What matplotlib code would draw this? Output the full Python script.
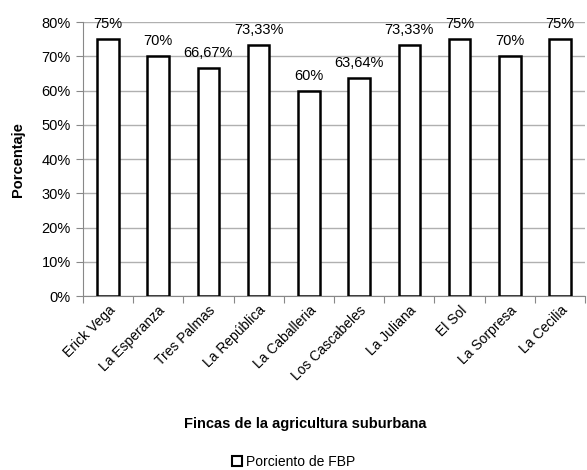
import numpy as np
import matplotlib
matplotlib.use('Agg')
import matplotlib.pyplot as plt
from matplotlib.patches import Patch
from matplotlib.ticker import FuncFormatter

plt.rcParams['font.family'] = ['Liberation Sans', 'DejaVu Sans']

# datos
fincas = ['Erick Vega', 'La Esperanza', 'Tres Palmas', 'La República', 'La Caballeria',
          'Los Cascabeles', 'La Juliana', 'El Sol', 'La Sorpresa', 'La Cecilia']
porcentaje = [75, 70, 66.67, 73.33, 60, 63.64, 73.33, 75, 70, 75]
etiquetas = ['75%', '70%', '66,67%', '73,33%', '60%', '63,64%', '73,33%', '75%', '70%', '75%']

fig = plt.figure(figsize=(5.87, 4.70), dpi=100)
ax = fig.add_axes([0.141, 0.370, 0.856, 0.583])

x = np.arange(len(fincas))
ax.bar(x, porcentaje, width=0.43, color='white', edgecolor='black', linewidth=1.8, zorder=3)

for xi, v, t in zip(x, porcentaje, etiquetas):
    ax.text(xi, v + 2.3, t, ha='center', va='bottom', fontsize=10.5)

ax.set_xlim(-0.5, len(fincas) - 0.5)
ax.set_ylim(0, 80)
ax.set_yticks(np.arange(0, 81, 10))
ax.yaxis.set_major_formatter(FuncFormatter(lambda v, p: f'{int(v)}%'))
ax.grid(axis='y', color='#b0b0b0', linewidth=1, zorder=0)

# ticks de categoría en los bordes
ax.set_xticks(np.arange(-0.5, len(fincas), 1), minor=False)
ax.set_xticklabels([])
ax.set_xticks(x, minor=True)
ax.set_xticklabels(fincas, minor=True, rotation=45, ha='right', rotation_mode='anchor', fontsize=10)
ax.tick_params(axis='x', which='minor', length=0, pad=5)
ax.tick_params(axis='x', which='major', length=5, color='#888888')
ax.tick_params(axis='y', length=5, color='#888888', labelsize=10.5)

for s in ['top', 'right']:
    ax.spines[s].set_visible(False)
for s in ['left', 'bottom']:
    ax.spines[s].set_color('#888888')

ax.set_ylabel('Porcentaje', fontsize=10.5, fontweight='bold', labelpad=12)
fig.text(0.52, 0.098, 'Fincas de la agricultura suburbana', ha='center', va='center',
         fontsize=10.5, fontweight='bold')
fig.legend(handles=[Patch(facecolor='white', edgecolor='black', linewidth=1.5, label='Porciento de FBP')],
           loc='center', bbox_to_anchor=(0.5, 0.017), frameon=False, fontsize=10,
           handlelength=0.7, handleheight=0.7, handletextpad=0.3)

fig.savefig('out.png', dpi=100)
